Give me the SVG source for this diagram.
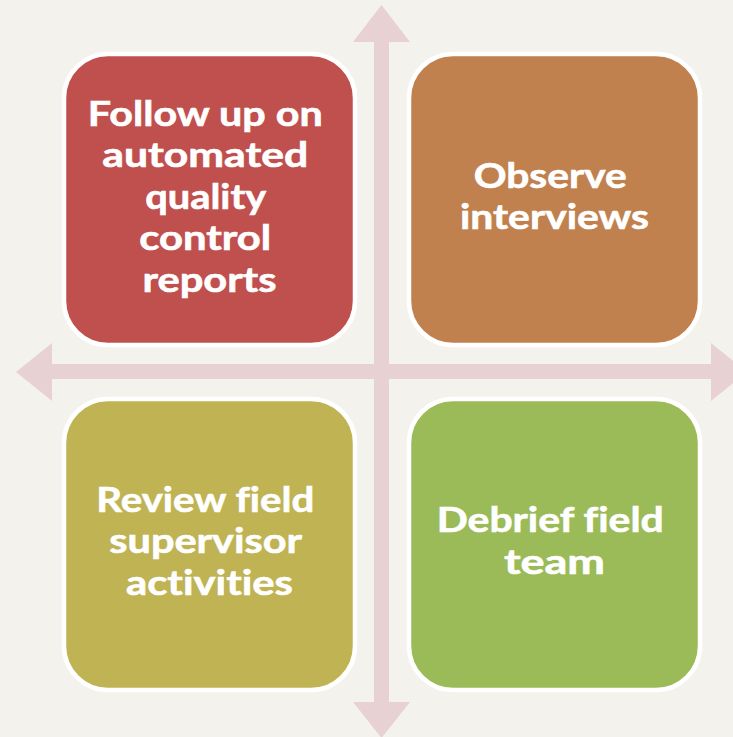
<svg xmlns="http://www.w3.org/2000/svg" width="733" height="737" viewBox="0 0 733 737">
  <defs>
    <style>
      .bg { fill: #F3F2ED; }
      .arrow { fill: #E8D1D3; }
      .box { stroke: #FFFFFF; stroke-width: 4.5; }
      .label { font-family: "Lato", "Liberation Sans", sans-serif; font-weight: bold; font-size: 35px; fill: #FFFFFF; stroke: #FFFFFF; stroke-width: 0.6; text-anchor: middle; font-variant-ligatures: none; font-feature-settings: "liga" 0, "clig" 0; }
    </style>
  </defs>

  <rect class="bg" x="0" y="0" width="733" height="737"/>

  <!-- crossed double-headed axes -->
  <g id="connectors">
    <polygon class="arrow" points="16,372 52,343 52,364 711,364 711,343 747,372 711,401 711,379 52,379 52,401"/>
    <polygon class="arrow" points="381.5,5 410,42 389,42 389,702 410,702 381.5,738 353,702 374,702 374,42 353,42"/>
  </g>

  <g id="node-qc-reports">
    <rect class="box" x="64" y="54" width="291" height="291" rx="44" fill="#C0504D"/>
    <text class="label">
      <tspan x="209.5" y="126" textLength="235" lengthAdjust="spacingAndGlyphs">Follow up on</tspan>
      <tspan x="209.5" y="167" textLength="206" lengthAdjust="spacingAndGlyphs">automated</tspan>
      <tspan x="209.5" y="208.5" textLength="120" lengthAdjust="spacingAndGlyphs">quality</tspan>
      <tspan x="209.5" y="250" textLength="132" lengthAdjust="spacingAndGlyphs">control</tspan>
      <tspan x="209.5" y="291.5" textLength="134" lengthAdjust="spacingAndGlyphs">reports</tspan>
    </text>
  </g>

  <g id="node-observe">
    <rect class="box" x="409" y="54" width="291" height="291" rx="44" fill="#C0814F"/>
    <text class="label">
      <tspan x="554.5" y="187.5" textLength="153" lengthAdjust="spacingAndGlyphs">Observe</tspan>
      <tspan x="554.5" y="229" textLength="189" lengthAdjust="spacingAndGlyphs">interviews</tspan>
    </text>
  </g>

  <g id="node-review-supervisor">
    <rect class="box" x="64" y="399" width="291" height="291" rx="44" fill="#BFB354"/>
    <text class="label">
      <tspan x="209.5" y="511.5" textLength="218" lengthAdjust="spacingAndGlyphs">Review field</tspan>
      <tspan x="209.5" y="553" textLength="192" lengthAdjust="spacingAndGlyphs">supervisor</tspan>
      <tspan x="209.5" y="594.5" textLength="167" lengthAdjust="spacingAndGlyphs">activities</tspan>
    </text>
  </g>

  <g id="node-debrief">
    <rect class="box" x="409" y="399" width="291" height="291" rx="44" fill="#9BBB59"/>
    <text class="label">
      <tspan x="554.5" y="532" textLength="227" lengthAdjust="spacingAndGlyphs">Debrief field</tspan>
      <tspan x="554.5" y="573.5" textLength="101" lengthAdjust="spacingAndGlyphs">team</tspan>
    </text>
  </g>
</svg>
